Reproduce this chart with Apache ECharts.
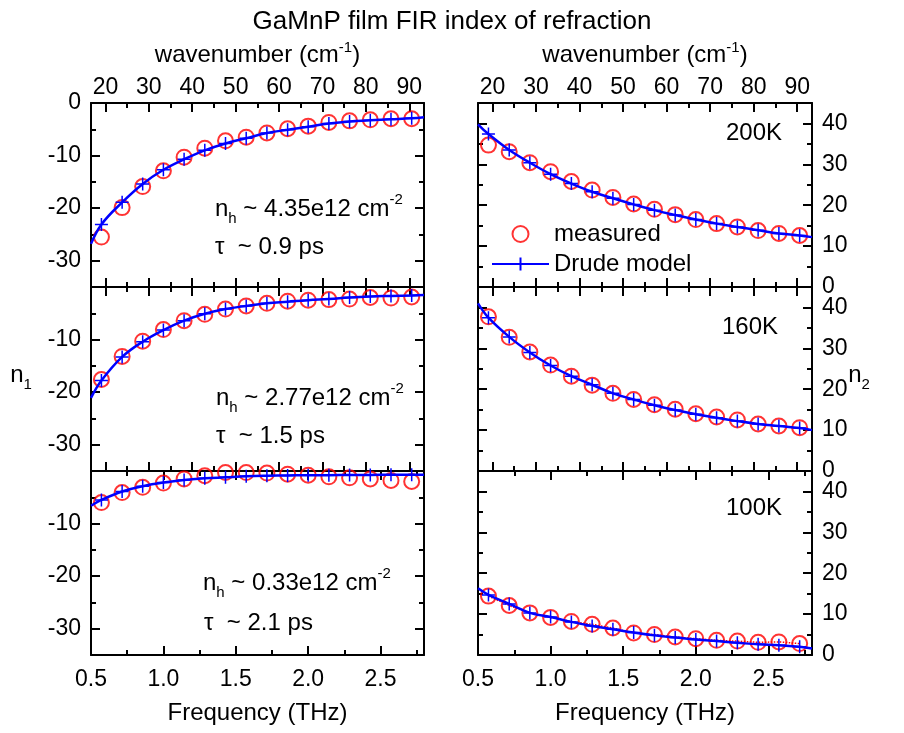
<!DOCTYPE html>
<html><head><meta charset="utf-8">
<script src="https://cdn.jsdelivr.net/npm/echarts@6/dist/echarts.min.js"></script>
<style>html,body{margin:0;padding:0;background:#fff}#c{width:904px;height:733px}</style>
</head><body><div id="c"></div>
<script>
// ---------------- data ----------------
const freqTHz = [0.572, 0.715, 0.857, 1.0, 1.143, 1.286, 1.429, 1.572, 1.715, 1.858, 2.0, 2.143, 2.286, 2.429, 2.572, 2.715];
const edgeTHz = [0.5, 2.8];
const temps = ['200K', '160K', '100K'];
const holeDensity = ['4.35e12', '2.77e12', '0.33e12'];
const scatterTime = ['0.9', '1.5', '2.1'];

const n1Meas200K = [-25.5, -19.9, -15.9, -12.9, -10.3, -8.6, -7.2, -6.5, -5.7, -4.9, -4.4, -3.7, -3.4, -3.2, -3.0, -3.0];
const n1Model200K = [-23.1, -18.9, -15.4, -12.7, -10.7, -9.0, -7.7, -6.7, -5.7, -5.1, -4.5, -3.9, -3.5, -3.3, -3.1, -2.9];
const n1Edge200K = [-26.8, -2.7];

const n1Meas160K = [-17.6, -13.2, -10.3, -8.1, -6.4, -5.2, -4.2, -3.6, -3.1, -2.7, -2.5, -2.4, -2.3, -2.0, -2.1, -1.9];
const n1Model160K = [-17.8, -13.3, -10.4, -8.2, -6.4, -5.1, -4.2, -3.6, -3.1, -2.8, -2.5, -2.3, -2.0, -1.8, -1.7, -1.6];
const n1Edge160K = [-21.1, -1.5];

const n1Meas100K = [-6.0, -4.1, -3.1, -2.3, -1.5, -0.9, -0.3, -0.3, -0.4, -0.6, -0.8, -1.1, -1.3, -1.5, -1.8, -2.0];
const n1Model100K = [-5.5, -3.9, -2.9, -2.2, -1.7, -1.4, -1.2, -1.0, -0.9, -0.85, -0.8, -0.8, -0.75, -0.75, -0.7, -0.7];
const n1Edge100K = [-6.6, -0.7];

const n2Meas200K = [34.7, 33.1, 30.4, 28.2, 25.8, 23.7, 21.9, 20.3, 19.0, 17.7, 16.5, 15.5, 14.7, 13.8, 13.1, 12.6];
const n2Model200K = [37.4, 33.5, 30.4, 27.6, 25.3, 23.3, 21.7, 20.2, 18.8, 17.6, 16.5, 15.5, 14.7, 13.9, 13.1, 12.6];
const n2Edge200K = [39.8, 12.2];

const n2Meas160K = [37.7, 32.7, 29.1, 25.9, 23.2, 21.0, 19.0, 17.5, 16.2, 15.1, 14.0, 13.2, 12.5, 11.5, 11.0, 10.6];
const n2Model160K = [37.5, 32.8, 29.0, 25.8, 23.2, 21.1, 19.0, 17.5, 16.1, 14.9, 13.9, 13.0, 12.2, 11.5, 11.0, 10.5];
const n2Edge160K = [41.0, 10.0];

const n2Meas100K = [14.4, 12.1, 10.3, 9.2, 8.2, 7.5, 6.6, 5.4, 5.0, 4.4, 4.0, 3.6, 3.4, 3.1, 3.2, 2.8];
const n2Model100K = [14.7, 12.5, 10.3, 9.3, 8.1, 7.1, 6.3, 5.5, 4.8, 4.3, 3.8, 3.4, 3.0, 2.6, 2.4, 2.0];
const n2Edge100K = [16.3, 1.6];

// ---------------- layout / style ----------------
const K = 33.35641; // cm^-1 per THz
const FONT = '"Liberation Sans", Arial, Helvetica, sans-serif';
const LS = {color: '#000', width: 2};
const TICK_FS = 23;
const TEXT_FS = 24;
const rowTops = [103, 287, 471];
const rowH = 184;
const colLeft = [91, 478];
const colW = [333, 334];

const panels = [
  {row: 0, col: 0, meas: n1Meas200K, model: n1Model200K, edge: n1Edge200K},
  {row: 1, col: 0, meas: n1Meas160K, model: n1Model160K, edge: n1Edge160K},
  {row: 2, col: 0, meas: n1Meas100K, model: n1Model100K, edge: n1Edge100K},
  {row: 0, col: 1, meas: n2Meas200K, model: n2Model200K, edge: n2Edge200K},
  {row: 1, col: 1, meas: n2Meas160K, model: n2Model160K, edge: n2Edge160K},
  {row: 2, col: 1, meas: n2Meas100K, model: n2Model100K, edge: n2Edge100K, dotted: true}
];

const thzFmt = v => (Math.abs(v * 2 - Math.round(v * 2)) < 1e-6 ? v.toFixed(1) : '');
const wnFmt = v => (Math.abs(v / 10 - Math.round(v / 10)) < 1e-6 ? String(Math.round(v)) : '');

function xAxisCfg(g, kind, pos, labels, hidden) {
  const wn = kind === 'wn';
  const a = {
    type: 'value', gridIndex: g, position: pos, show: !hidden,
    min: wn ? 0.5 * K : 0.5, max: wn ? 2.8 * K : 2.8,
    axisLine: {show: true, onZero: false, lineStyle: LS},
    axisTick: {show: true, inside: true, length: 9, lineStyle: LS},
    minorTick: {show: true, splitNumber: 2, length: 5, lineStyle: LS},
    splitLine: {show: false}, minorSplitLine: {show: false},
    axisLabel: {show: labels, color: '#000', fontSize: TICK_FS, fontFamily: FONT,
      margin: pos === 'top' ? 4 : 13, showMinLabel: !wn, showMaxLabel: false,
      formatter: wn ? wnFmt : thzFmt}
  };
  if (wn) a.splitNumber = 8; else a.interval = 0.5;
  return a;
}

function yAxisCfg(g, col, pos, labels, row) {
  const n1 = col === 0;
  const a = {
    type: 'value', gridIndex: g, position: pos,
    min: n1 ? -35 : 0, max: n1 ? 0 : 45,
    axisLine: {show: true, onZero: false, lineStyle: LS},
    axisTick: {show: true, inside: true, length: 9, lineStyle: LS},
    minorTick: {show: true, splitNumber: 2, length: 5, lineStyle: LS},
    splitLine: {show: false}, minorSplitLine: {show: false},
    axisLabel: {show: labels, color: '#000', fontSize: TICK_FS, fontFamily: FONT, margin: 10,
      formatter: v => {
        if (Math.abs(v / 10 - Math.round(v / 10)) > 1e-6) return '';
        if (n1 && row > 0 && v === 0) return '';
        return String(Math.round(v));
      }}
  };
  if (n1) a.splitNumber = 4; else a.interval = 10;
  return a;
}

const grids = [], xAxes = [], yAxes = [], series = [];
panels.forEach((p, g) => {
  grids.push({left: colLeft[p.col], top: rowTops[p.row], width: colW[p.col], height: rowH, containLabel: false});
  xAxes.push(xAxisCfg(g, 'thz', 'bottom', false, true));          // data axis, index g*3
  if (p.row === 2) {
    const b = xAxisCfg(g, 'thz', 'bottom', true, false);
    b.name = 'Frequency (THz)'; b.nameLocation = 'middle'; b.nameGap = 46;
    b.nameTextStyle = {fontSize: TEXT_FS, color: '#000', fontFamily: FONT};
    xAxes.push(b);
  } else {
    xAxes.push(xAxisCfg(g, 'wn', 'bottom', false, false));
  }
  if (p.row === 0) {
    const t = xAxisCfg(g, 'wn', 'top', true, false);
    t.name = '{a|wavenumber (cm}{s|-1}{a|)}'; t.nameLocation = 'middle'; t.nameGap = 33;
    t.nameTextStyle = {fontSize: TEXT_FS, color: '#000', fontFamily: FONT, rich: {
      a: {fontSize: TEXT_FS, lineHeight: 30, color: '#000', fontFamily: FONT},
      s: {fontSize: 15, lineHeight: 15, verticalAlign: 'top', color: '#000', fontFamily: FONT}}};
    xAxes.push(t);
  } else if (p.row === 1) {
    xAxes.push(xAxisCfg(g, 'wn', 'top', false, false));
  } else {
    xAxes.push(xAxisCfg(g, 'thz', 'top', false, false));
  }
  yAxes.push(yAxisCfg(g, p.col, 'left', p.col === 0, p.row));   // g*2
  yAxes.push(yAxisCfg(g, p.col, 'right', p.col === 1, p.row));  // g*2+1

  const xi = g * 3, yi = g * 2;
  const measData = freqTHz.map((f, i) => [f, p.meas[i]]);
  if (p.dotted) {
    series.push({type: 'line', name: 'measured-dots', xAxisIndex: xi, yAxisIndex: yi, data: measData,
      symbol: 'none', lineStyle: {color: '#ff0000', width: 1.5, type: 'dotted'}, z: 1, silent: true});
  }
  series.push({type: 'scatter', name: 'measured', xAxisIndex: xi, yAxisIndex: yi, data: measData,
    symbol: 'circle', symbolSize: 15, clip: false,
    itemStyle: {color: 'rgba(255,255,255,0)', borderColor: '#ff0000', borderWidth: 2}, z: 2});
  const modelData = [{value: [edgeTHz[0], p.edge[0]], symbol: 'none'}]
    .concat(freqTHz.map((f, i) => [f, p.model[i]]))
    .concat([{value: [edgeTHz[1], p.edge[1]], symbol: 'none'}]);
  series.push({type: 'line', name: 'Drude model', xAxisIndex: xi, yAxisIndex: yi, data: modelData,
    smooth: 0.4, showSymbol: true, symbol: 'path://M0,-10L0,10M-10,0L10,0', symbolSize: 13,
    itemStyle: {color: '#0000ff', borderColor: '#0000ff', borderWidth: 1.5},
    lineStyle: {color: '#0000ff', width: 2.5}, z: 3, clip: true});
});

// annotations
const graphics = [];
const richStyle = {
  m: {fontSize: TEXT_FS, lineHeight: 34, fontFamily: FONT, fill: '#000', color: '#000'},
  sub: {fontSize: 15, lineHeight: 15, verticalAlign: 'bottom', fontFamily: FONT, fill: '#000', color: '#000'},
  sup: {fontSize: 15, lineHeight: 15, verticalAlign: 'top', fontFamily: FONT, fill: '#000', color: '#000'}
};
const nhPos = [[215, 209], [216, 398], [203, 583]];
const tauPos = [[215, 247], [216, 436], [204, 623]];
const tempPos = [[782, 133], [778, 327], [782, 508]];
for (let r = 0; r < 3; r++) {
  graphics.push({type: 'text', x: nhPos[r][0], y: nhPos[r][1], z: 10,
    style: {text: '{m|n}{sub|h}{m| ~ ' + holeDensity[r] + ' cm}{sup|-2}', rich: richStyle,
      align: 'left', verticalAlign: 'middle', fontSize: TEXT_FS, fontFamily: FONT, fill: '#000'}});
  graphics.push({type: 'text', x: tauPos[r][0], y: tauPos[r][1], z: 10,
    style: {text: '\u03c4  ~ ' + scatterTime[r] + ' ps', align: 'left', verticalAlign: 'middle',
      fontSize: TEXT_FS, fontFamily: FONT, fill: '#000'}});
  graphics.push({type: 'text', x: tempPos[r][0], y: tempPos[r][1], z: 10,
    style: {text: temps[r], align: 'right', verticalAlign: 'middle', fontSize: TEXT_FS, fontFamily: FONT, fill: '#000'}});
}
graphics.push({type: 'text', x: 21, y: 375, z: 10,
  style: {text: '{m|n}{sub|1}', rich: richStyle, align: 'center', verticalAlign: 'middle', fontSize: TEXT_FS, fontFamily: FONT, fill: '#000'}});
graphics.push({type: 'text', x: 859, y: 375, z: 10,
  style: {text: '{m|n}{sub|2}', rich: richStyle, align: 'center', verticalAlign: 'middle', fontSize: TEXT_FS, fontFamily: FONT, fill: '#000'}});

const chart = echarts.init(document.getElementById('c'), null, {renderer: 'canvas'});
chart.setOption({
  animation: false,
  backgroundColor: '#fff',
  title: {text: 'GaMnP film FIR index of refraction', left: 'center', top: 4,
    textStyle: {fontSize: 26, fontWeight: 'normal', color: '#000', fontFamily: FONT}},
  legend: {show: true, left: 486, top: 217, orient: 'vertical', itemWidth: 57, itemHeight: 16, itemGap: 6,
    selectedMode: false, data: ['measured', 'Drude model'],
    textStyle: {fontSize: TEXT_FS, color: '#000', fontFamily: FONT}},
  grid: grids,
  xAxis: xAxes,
  yAxis: yAxes,
  series: series,
  graphic: graphics
});
</script>
</body></html>
